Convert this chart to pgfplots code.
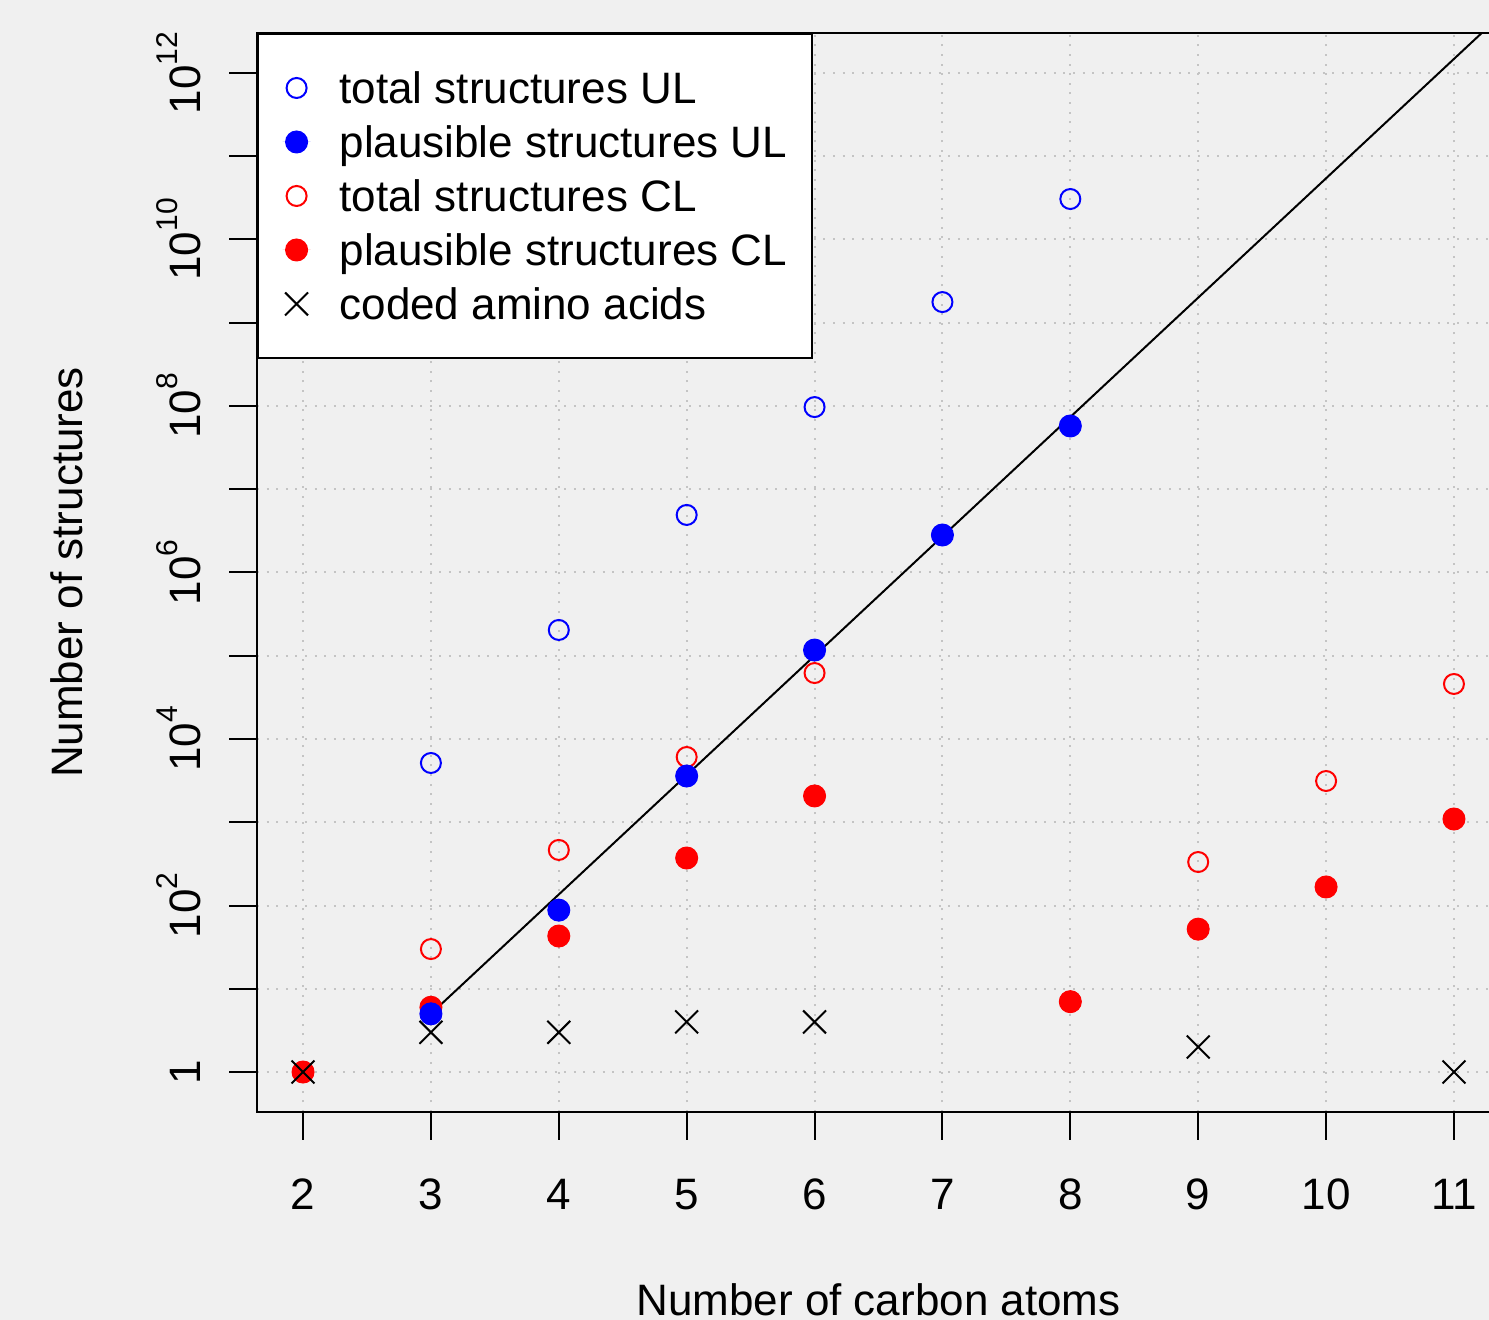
\documentclass[border=0pt]{standalone}
\usepackage{fontspec}
\setmainfont{Liberation Sans}
\usepackage{pgfplots}
\pgfplotsset{compat=1.18}
\definecolor{bg}{HTML}{F0F0F0}
\definecolor{gridc}{HTML}{C4C4C4}
\definecolor{rblue}{RGB}{0,0,255}
\definecolor{rred}{RGB}{255,0,0}
\newcommand{\sci}[1]{10\raisebox{11.5pt}{\fontsize{15}{15}\selectfont #1}}
\begin{document}
\fontsize{22}{26}\selectfont
\begin{tikzpicture}
\fill[bg] (-128.5pt,-104pt) rectangle (616pt,556pt);
\begin{axis}[
  at={(0pt,0pt)}, anchor=south west,
  scale only axis, width=621.5pt, height=539.5pt,
  ymode=log, log basis y=10,
  xmin=1.64, xmax=11.36,
  ymin=0.3311, ymax=3.02e12,
  xtick={2,3,4,5,6,7,8,9,10,11},
  xticklabels={2,3,4,5,6,7,8,9,10,11},
  ytick={1,10,100,1e3,1e4,1e5,1e6,1e7,1e8,1e9,1e10,1e11,1e12},
  yticklabels={{1},{},{\sci{2}},{},{\sci{4}},{},{\sci{6}},{},{\sci{8}},{},{\sci{10}},{},{\sci{12}}},
  yminorticks=false, xminorticks=false,
  tick pos=left, tick align=outside, major tick length=14pt,
  axis line style={line width=1pt, black},
  tick style={line width=1pt, black},
  grid=major,
  major grid style={gridc, line width=1pt, dash pattern=on 1pt off 3.8pt},
  xticklabel style={anchor=base, yshift=-35pt, inner sep=0pt},
  yticklabel style={anchor=base, xshift=-14.5pt, rotate=90, inner sep=0pt},
  every axis x label/.style={at={(axis description cs:0.5,-0.1885)}, anchor=base, inner sep=0pt},
  every axis y label/.style={at={(axis description cs:-0.14,0.5)}, rotate=90, anchor=base, inner sep=0pt},
  xlabel={Number of carbon atoms},
  ylabel={Number of structures},
  legend style={at={(rel axis cs:0,1)}, anchor=north west, draw=black, line width=1pt, fill=white,
    inner xsep=12.3pt, inner ysep=13.5pt, row sep=0pt, column sep=14.5pt,
    font=\fontsize{22}{26}\selectfont,
    nodes={inner sep=0pt, minimum height=27pt, text height=18pt, text depth=2.2pt}},
  legend cell align=left,
  openm/.style={only marks, mark=o, mark size=5pt, line width=1pt, color=#1,
     legend image code/.code={\path[draw=none] (-7pt,0pt) -- (7pt,0pt); \draw[##1] plot coordinates {(0pt,0pt)};}},
  fillm/.style={only marks, mark=*, mark size=5.5pt, line width=0.5pt, color=#1, fill=#1,
     legend image code/.code={\path[draw=none] (-7pt,0pt) -- (7pt,0pt); \draw[##1] plot coordinates {(0pt,0pt)};}},
  crossm/.style={only marks, mark=x, mark size=8.1pt, line width=1pt, color=black,
     legend image code/.code={\path[draw=none] (-7pt,0pt) -- (7pt,0pt); \draw[##1] plot coordinates {(0pt,0pt)};}},
]
% legend entries (legend order)
\addlegendimage{openm=rblue}
\addlegendentry{total structures UL}
\addlegendimage{fillm=rblue}
\addlegendentry{plausible structures UL}
\addlegendimage{openm=rred}
\addlegendentry{total structures CL}
\addlegendimage{fillm=rred}
\addlegendentry{plausible structures CL}
\addlegendimage{crossm}
\addlegendentry{coded amino acids}

% trend line
\addplot[forget plot, black, line width=1pt] coordinates {(3,5) (12,4e13)};
% total structures CL
\addplot[forget plot, openm=rred] coordinates {(2,1) (3,30) (4,465) (5,6080) (6,6.2e4) (8,7) (9,333) (10,3130) (11,4.58e4)};
% plausible structures CL
\addplot[forget plot, fillm=rred] coordinates {(2,1) (3,6) (4,43) (5,372) (6,2070) (8,7) (9,52) (10,167) (11,1094)};
% total structures UL
\addplot[forget plot, openm=rblue] coordinates {(3,5150) (4,2.04e5) (5,4.91e6) (6,9.7e7) (7,1.77e9) (8,3.06e10)};
% plausible structures UL
\addplot[forget plot, fillm=rblue] coordinates {(3,5) (4,88) (5,3594) (6,1.17e5) (7,2.82e6) (8,5.75e7)};
% coded amino acids
\addplot[forget plot, crossm] coordinates {(2,1) (3,3) (4,3) (5,4) (6,4) (9,2) (11,1)};
\end{axis}
\pgfresetboundingbox
\useasboundingbox (-128.5pt,-104pt) rectangle (616pt,556pt);
\end{tikzpicture}
\end{document}
